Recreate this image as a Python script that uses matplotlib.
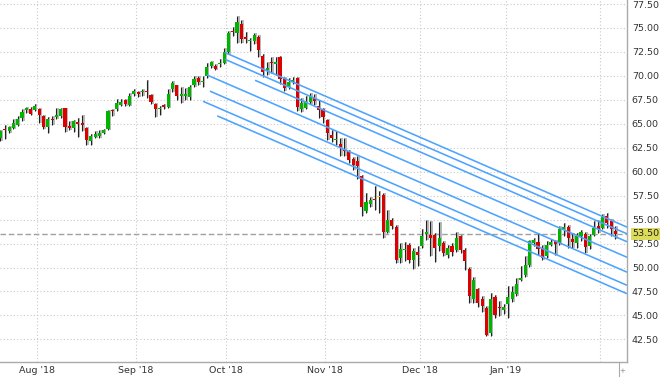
import numpy as np
import matplotlib
matplotlib.use('Agg')
import matplotlib.pyplot as plt
import matplotlib.transforms as mtransforms

# daily candles, one per trading day (mid Jul 2018 .. early Feb 2019)
opens = [63.5, 64.35, 64.2, 64.6, 64.9, 65.6, 66.4, 66.5, 66.4, 66.5,
         65.8, 64.7, 65.5, 65.7, 65.8, 66.6, 64.8, 64.6, 65.15, 65.1,
         64.6, 63.2, 63.6, 63.7, 64.0, 64.5, 66.4, 66.5, 67.0, 67.5,
         67.0, 68.1, 68.3, 68.3, 68.4, 68.0, 67.1, 66.55, 66.9, 66.75,
         68.6, 69.0, 67.95, 67.95, 67.8, 69.0, 69.75, 69.35, 69.95, 71.05,
         71.05, 71.2, 71.3, 72.45, 74.7, 74.5, 75.4, 74.05, 73.6, 73.6,
         74.1, 72.1, 70.6, 71.4, 71.25, 72.0, 69.75, 68.8, 69.45, 69.75,
         66.55, 66.7, 67.26, 67.67, 66.88, 66.53, 65.42, 63.85, 63.26, 62.92,
         62.22, 62.12, 61.32, 61.15, 59.58, 55.87, 56.67, 57.15, 57.36, 57.6,
         53.7, 55.0, 54.24, 51.0, 51.85, 52.4, 50.76, 51.6, 52.22, 53.5,
         53.44, 53.44, 52.22, 52.57, 51.35, 52.29, 51.87, 53.26, 51.8, 49.86,
         46.74, 47.78, 46.67, 45.8, 43.13, 46.95, 45.85, 45.56, 46.15, 46.67,
         47.19, 48.68, 49.17, 50.21, 52.57, 52.64, 52.05, 51.18, 52.4, 52.74,
         52.57, 53.96, 54.24, 52.99, 52.57, 53.26, 53.54, 52.22, 53.44, 54.31,
         54.13, 55.35, 54.83, 53.78]
highs = [64.3, 64.9, 64.8, 65.5, 65.8, 66.5, 66.8, 66.8, 67.1, 66.6,
         65.9, 65.7, 65.8, 66.7, 66.7, 66.7, 65.3, 65.4, 65.6, 65.9,
         64.7, 63.9, 64.2, 64.3, 64.5, 66.4, 66.5, 67.6, 67.6, 67.6,
         68.2, 68.6, 68.45, 68.6, 69.6, 68.1, 67.2, 66.9, 67.05, 68.6,
         69.5, 69.1, 68.8, 68.7, 69.0, 70.0, 70.0, 70.0, 71.3, 71.6,
         71.2, 71.8, 72.9, 74.7, 75.1, 76.2, 75.8, 74.6, 74.0, 74.5,
         74.3, 72.3, 71.5, 72.0, 72.0, 72.1, 69.9, 69.8, 69.9, 69.9,
         67.7, 67.9, 68.2, 68.1, 67.5, 66.6, 65.5, 64.37, 64.27, 63.5,
         63.5, 62.3, 61.5, 61.6, 59.7, 57.8, 57.4, 58.47, 57.95, 57.8,
         56.04, 55.2, 54.4, 52.57, 52.64, 52.6, 52.0, 52.22, 54.03, 55.0,
         54.83, 53.6, 54.72, 52.8, 52.3, 52.6, 53.68, 53.44, 52.0, 50.1,
         49.0, 47.88, 47.0, 46.0, 47.36, 47.1, 46.5, 46.2, 48.06, 48.06,
         48.92, 50.2, 51.18, 52.9, 53.09, 53.61, 52.3, 52.74, 52.99, 52.9,
         54.3, 54.65, 54.4, 53.61, 53.61, 53.96, 53.7, 53.5, 54.83, 55.0,
         55.63, 55.7, 55.07, 54.31]
lows = [63.2, 63.4, 64.0, 64.5, 64.8, 65.3, 66.1, 65.9, 66.3, 65.1,
        64.5, 64.0, 64.9, 65.5, 65.6, 64.1, 64.4, 64.1, 63.6, 64.2,
        62.8, 62.8, 63.5, 63.5, 63.9, 64.4, 65.8, 66.3, 66.9, 66.9,
        66.9, 67.9, 67.8, 67.9, 67.7, 67.1, 65.7, 65.9, 66.5, 66.6,
        68.3, 67.5, 67.2, 67.5, 67.5, 68.8, 69.1, 68.8, 69.8, 70.8,
        70.6, 70.9, 71.2, 72.3, 74.2, 73.4, 73.4, 73.4, 72.6, 73.3,
        72.0, 69.9, 70.1, 70.3, 70.1, 69.2, 68.4, 68.6, 69.2, 66.3,
        66.2, 66.5, 67.1, 67.0, 65.59, 65.07, 63.33, 63.06, 62.8, 61.6,
        61.6, 60.9, 60.2, 59.2, 55.35, 55.7, 56.3, 56.04, 55.7, 53.09,
        53.6, 54.0, 50.49, 50.49, 50.66, 50.49, 49.8, 50.14, 52.0, 52.92,
        51.18, 50.56, 51.7, 51.18, 51.0, 51.2, 51.6, 51.5, 49.72, 46.3,
        46.3, 45.9, 45.35, 42.85, 42.9, 44.76, 44.9, 45.1, 44.76, 46.4,
        47.0, 48.6, 49.0, 50.07, 52.29, 51.35, 50.76, 51.0, 52.2, 51.35,
        52.4, 53.33, 52.05, 52.05, 52.05, 52.74, 51.53, 51.94, 53.3, 53.61,
        54.0, 54.13, 53.26, 53.0]
closes = [64.2, 64.3, 64.7, 65.1, 65.5, 66.2, 66.6, 66.0, 66.9, 65.9,
          64.7, 65.5, 65.4, 65.9, 66.5, 64.7, 64.6, 65.3, 65.0, 64.9,
          63.3, 63.7, 63.9, 64.0, 64.4, 66.3, 66.3, 67.2, 67.3, 67.05,
          67.95, 68.45, 68.15, 68.45, 68.3, 67.3, 66.5, 66.7, 66.8, 68.1,
          69.25, 67.85, 68.05, 68.05, 68.8, 69.65, 69.4, 69.5, 70.9, 71.4,
          70.75, 71.3, 72.45, 74.5, 74.55, 75.65, 73.8, 73.8, 73.7, 74.25,
          72.65, 70.45, 70.8, 71.3, 71.5, 69.65, 68.7, 69.4, 69.6, 66.8,
          67.15, 67.33, 67.85, 67.43, 66.46, 65.7, 64.03, 63.51, 63.44, 62.57,
          62.12, 61.25, 60.73, 60.56, 56.32, 56.84, 57.08, 57.0, 57.36, 53.68,
          55.0, 54.3, 50.83, 51.94, 51.9, 50.76, 51.77, 51.35, 53.33, 53.72,
          53.09, 52.05, 53.09, 51.53, 52.05, 51.6, 53.09, 51.875, 50.66, 47.01,
          48.65, 46.32, 45.97, 42.92, 46.67, 45.0, 45.8, 45.9, 46.95, 47.43,
          48.33, 48.89, 50.21, 52.74, 52.92, 51.94, 51.0, 52.4, 52.64, 52.5,
          54.03, 54.2, 53.09, 52.64, 53.26, 53.68, 52.15, 53.33, 54.13, 54.03,
          55.28, 54.65, 54.03, 53.5]
last_price = 53.50

# index of the first candle in each month (gridlines sit just before it)
month_first = [9, 32, 53, 76, 98, 118, 140]
month_labels = ["Aug '18", "Sep '18", "Oct '18", "Nov '18", "Dec '18", "Jan '19", ""]

# hand drawn parallel trend lines: start candle, start price, common slope
line_start_x = [52.2, 52.2, 59.2, 48.0, 48.7, 47.1, 50.4]
line_start_y = [72.43, 71.73, 69.54, 70.10, 68.41, 67.35, 65.83]
line_slope = -0.1948

y_ticks = np.arange(42.5, 77.6, 2.5)

GREEN = '#00b400'
RED = '#dc0000'

fig = plt.figure(figsize=(6.6, 3.77), dpi=100)
ax = fig.add_axes([0.0, 15.5 / 377, 627 / 660, 361.5 / 377])

x = np.arange(len(closes))
o = np.array(opens)
c = np.array(closes)
h = np.array(highs)
lo = np.array(lows)

colors = []
for oo, cc in zip(o, c):
    if oo == cc:
        colors.append('#f0d800')
    elif cc > oo:
        colors.append(GREEN)
    else:
        colors.append(RED)

# grey shadow, wick, then body
ax.vlines(x + 0.35, lo, h, color='#b8b8b8', lw=1.4, zorder=2)
ax.vlines(x, lo, h, color='#222222', lw=0.8, zorder=3)
body_bottom = np.minimum(o, c)
body_height = np.maximum(np.abs(c - o), 0.12)
ax.bar(x, body_height, bottom=body_bottom, width=0.72, color=colors,
       edgecolor='none', zorder=4)

# trend lines run to the right edge
x_right = 145.7
for sx, sy in zip(line_start_x, line_start_y):
    ey = sy + line_slope * (x_right - sx)
    ax.plot([sx, x_right], [sy, ey], color='#4da3ff', lw=1.15, zorder=5,
            solid_capstyle='butt')

# last price dashed line + label
ax.axhline(last_price, color='#a0a0a0', lw=1.0, ls=(0, (4, 2)), zorder=1)
trans = mtransforms.blended_transform_factory(ax.transAxes, ax.transData)
ax.text(1.008, last_price, '%.2f' % last_price, transform=trans, ha='left',
        va='center', fontsize=6.8, color='#222222',
        bbox=dict(boxstyle='square,pad=0.15', facecolor='#dcdc5a', edgecolor='none'))

ax.set_xlim(-0.116, x_right)
ax.set_ylim(40.19, 77.92)

# grids
grid_x = [m - 0.5 for m in month_first]
ax.set_xticks(grid_x)
ax.set_xticklabels(month_labels)
ax.set_yticks(y_ticks)
ax.set_yticklabels(['%.2f' % v for v in y_ticks])
ax.grid(True, color='#c8c8c8', lw=0.8, ls=(0, (1, 2)), zorder=0)

ax.yaxis.tick_right()
ax.tick_params(axis='both', length=0, labelsize=6.8, labelcolor='#333333')
ax.tick_params(axis='y', pad=3.5)
ax.tick_params(axis='x', pad=3)

for side in ['left', 'top']:
    ax.spines[side].set_visible(False)
for side in ['right', 'bottom']:
    ax.spines[side].set_color('#aaaaaa')
    ax.spines[side].set_linewidth(1.0)

# little marker below the axis corner
fig.add_artist(plt.Line2D([619 / 660, 619 / 660], [0, 15 / 377], color='#aaaaaa', lw=0.8))
fig.text(622.5 / 660, 6 / 377, '+', fontsize=5, color='#888888', ha='center', va='center')

fig.savefig('out.png', dpi=100)
